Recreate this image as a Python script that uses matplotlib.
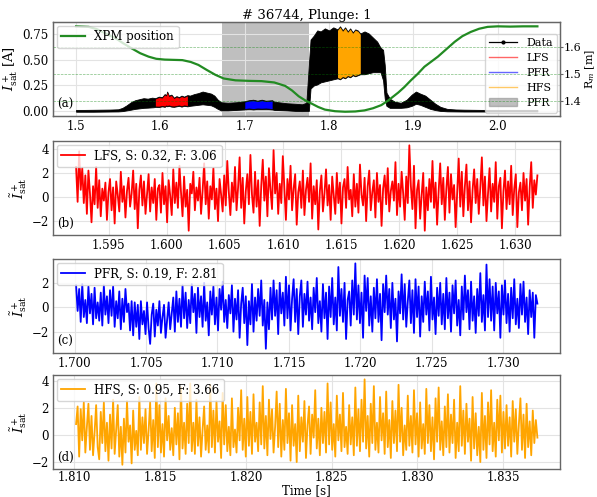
import numpy as np
import matplotlib
matplotlib.use("Agg")
import matplotlib.pyplot as plt
from matplotlib.patches import Patch

plt.rcParams["font.family"] = "DejaVu Serif"
plt.rcParams["mathtext.fontset"] = "dejavuserif"

shot = 36744
plunge = 1

# raw ion saturation current: the trace is so dense it reads as a band,
# so keep its lower / upper edge
env_t = [1.500, 1.510, 1.520, 1.530, 1.540, 1.550, 1.555, 1.560, 1.565, 1.570, 1.575, 1.580,
         1.585, 1.590, 1.592, 1.594, 1.598, 1.602, 1.605, 1.607, 1.608, 1.610, 1.613, 1.616,
         1.619, 1.622, 1.625, 1.628, 1.632, 1.635, 1.640, 1.645, 1.650, 1.655, 1.660, 1.664,
         1.668, 1.672, 1.680, 1.690, 1.700, 1.705, 1.710, 1.715, 1.720, 1.725, 1.7325, 1.735,
         1.740, 1.750, 1.760, 1.768, 1.773, 1.776, 1.778, 1.782, 1.786, 1.790, 1.795, 1.800,
         1.805, 1.810, 1.813, 1.816, 1.819, 1.822, 1.825, 1.828, 1.831, 1.834, 1.837, 1.842,
         1.847, 1.852, 1.857, 1.861, 1.864, 1.866, 1.868, 1.872, 1.878, 1.885, 1.892, 1.898,
         1.903, 1.908, 1.914, 1.920, 1.926, 1.932, 1.940, 1.950, 1.960, 1.980, 2.000, 2.020,
         2.047]
env_lo = [-0.008, -0.008, -0.008, -0.007, -0.006, -0.005, -0.002, 0.005, 0.012, 0.02, 0.025, 0.03,
          0.032, 0.035, 0.036, 0.04, 0.038, 0.045, 0.04, 0.05, 0.045, 0.05, 0.042, 0.04,
          0.045, 0.05, 0.042, 0.05, 0.045, 0.05, 0.055, 0.06, 0.065, 0.06, 0.055, 0.04,
          0.02, 0.005, 0.005, 0.01, 0.015, 0.02, 0.015, 0.02, 0.018, 0.02, 0.015, 0.01,
          0.008, 0.005, 0.0, -0.002, 0.0, 0.0, 0.22, 0.25, 0.26, 0.28, 0.29, 0.30,
          0.31, 0.32, 0.31, 0.33, 0.32, 0.34, 0.33, 0.35, 0.34, 0.35, 0.36, 0.36,
          0.37, 0.38, 0.38, 0.38, 0.30, 0.12, 0.05, 0.03, 0.03, 0.03, 0.035, 0.05,
          0.07, 0.06, 0.04, 0.02, 0.008, 0.0, -0.004, -0.005, -0.006, -0.006, -0.006, -0.005,
          -0.005]
env_hi = [0.010, 0.010, 0.011, 0.012, 0.013, 0.016, 0.030, 0.055, 0.085, 0.105, 0.115, 0.125,
          0.12, 0.13, 0.128, 0.125, 0.14, 0.135, 0.165, 0.155, 0.19, 0.15, 0.16, 0.13,
          0.145, 0.135, 0.15, 0.14, 0.155, 0.15, 0.165, 0.175, 0.19, 0.18, 0.17, 0.15,
          0.11, 0.085, 0.08, 0.085, 0.095, 0.105, 0.11, 0.1, 0.11, 0.1, 0.105, 0.09,
          0.085, 0.075, 0.07, 0.065, 0.08, 0.45, 0.70, 0.74, 0.79, 0.78, 0.81, 0.79,
          0.82, 0.80, 0.83, 0.79, 0.82, 0.78, 0.81, 0.77, 0.80, 0.79, 0.76, 0.78,
          0.76, 0.72, 0.68, 0.62, 0.60, 0.45, 0.18, 0.12, 0.09, 0.08, 0.11, 0.16,
          0.19, 0.17, 0.15, 0.11, 0.07, 0.04, 0.02, 0.014, 0.012, 0.01, 0.01, 0.01,
          0.01]

# probe position (XPM) in major radius
xpm_time = [1.500, 1.515, 1.525, 1.535, 1.547, 1.556, 1.566, 1.576, 1.586, 1.595, 1.605, 1.615,
            1.626, 1.636, 1.645, 1.655, 1.665, 1.675, 1.689, 1.705, 1.720, 1.735, 1.748, 1.756,
            1.764, 1.772, 1.779, 1.787, 1.795, 1.807, 1.819, 1.831, 1.842, 1.852, 1.862, 1.870,
            1.876, 1.882, 1.889, 1.897, 1.905, 1.913, 1.921, 1.929, 1.939, 1.949, 1.958, 1.968,
            1.978, 1.988, 2.000, 2.015, 2.030, 2.047]
xpm_r = [1.679, 1.677, 1.668, 1.652, 1.634, 1.615, 1.596, 1.578, 1.565, 1.557, 1.554, 1.553,
         1.552, 1.545, 1.534, 1.515, 1.497, 1.483, 1.476, 1.474, 1.473, 1.468, 1.455, 1.438,
         1.416, 1.400, 1.389, 1.376, 1.366, 1.360, 1.358, 1.359, 1.363, 1.371, 1.383, 1.400,
         1.415, 1.430, 1.450, 1.476, 1.500, 1.527, 1.546, 1.565, 1.593, 1.621, 1.642, 1.658,
         1.670, 1.677, 1.679, 1.678, 1.679, 1.679]

pfr_span = (1.673, 1.776)

# normalised fluctuations per region
lfs_window = (1.5922, 1.6319)
lfs_stats = (0.32, 3.06)
lfs_vals = [
    2.5, -0.4, 3.8, 0.6, 2.4, -0.5, 1.8, -1.4, 2.2, 0.3, -2.1, 0.9, -0.6, 2.5, -0.9, 1.4, -1.6, 0.7, -0.3, 1.2,
    -1.9, 0.4, 1.5, -1.1, 0.8, -2.2, 1.3, 0.2, -1.2, 2.1, -0.4, 0.9, -1.7, 0.5, 1.6, -0.8, 0.3, 2.2, -1.0, 1.1,
    -2.6, 0.6, 1.8, -0.7, 1.3, -1.4, 0.2, 1.9, -1.2, 0.8, -0.5, 1.5, -1.9, 0.7, 1.0, -1.3, 2.0, -0.6, 0.9, -2.1,
    1.4, 0.1, -1.5, 2.3, -0.5, 1.2, -0.9, 2.6, 0.4, -1.6, 1.7, -0.8, 0.6, -2.8, 1.1, 0.3, 2.1, -1.1, 0.8, -0.3,
    1.6, -1.4, 0.5, 2.8, -0.6, 1.3, -1.8, 0.9, -0.2, 2.4, -1.0, 0.7, -2.0, 1.5, 0.2, -1.2, 1.8, -0.7, 3.0, 0.4,
    -1.5, 1.2, -0.4, 2.5, -1.1, 0.8, 3.3, -0.9, 1.6, -2.2, 0.5, 1.9, -0.6, 3.5, 0.2, -1.3, 2.1, -0.8, 1.4, -2.4,
    0.9, 3.1, -0.3, 1.7, -1.6, 2.4, 0.6, -1.0, 3.9, 0.3, 2.0, -1.4, 1.1, -0.5, 3.4, 0.8, -1.9, 1.5, -0.2, 2.6,
    -1.1, 0.7, 1.9, -2.3, 0.4, 1.3, -0.9, 2.2, -1.5, 0.6, 1.6, -0.4, 2.8, -1.8, 0.9, -0.6, 1.4, -2.7, 0.5, 1.8,
    -1.2, 0.3, 2.3, -0.7, 1.0, -1.9, 1.7, 0.1, -1.4, 2.0, -0.5, 1.2, -2.2, 0.8, 1.5, -0.9, 2.5, -0.2, 0.6, -1.6,
    1.9, -0.8, 1.1, -1.3, 2.7, 0.2, -0.7, 1.6, -2.0, 0.9, 2.2, -1.1, 0.4, 1.4, -1.7, 2.0, -0.4, 1.0, -2.4, 0.7,
    1.8, -0.6, 2.4, -1.2, 0.5, 1.3, -0.3, 2.9, -1.5, 1.1, -0.8, 2.1, 0.3, -1.9, 1.7, -0.5, 4.3, 0.9, -1.0, 2.6,
    -2.6, 0.6, 1.4, -1.8, 0.2, 2.0, -2.8, 0.8, -1.1, 1.5, -0.4, 3.0, -0.9, 1.2, -2.3, 0.5, 2.8, -0.6, 1.6, -1.9,
    0.7, 2.5, -1.3, 1.9, -0.2, 1.0, -2.5, 0.4, 3.2, -0.8, 2.1, -1.6, 0.9, 2.7, -1.1, 1.3, -2.1, 0.6, 2.3, -0.5,
    1.5, -1.4, 0.8, 3.3, -0.7, 1.7, -2.0, 0.3, 2.4, -1.2, 1.1, -0.4, 2.9, -1.8, 0.9, 1.6, -2.6, 0.5, 2.2, -1.0,
    1.3, -0.6, 2.6, -1.5, 0.7, 1.9, -2.5, 0.4, 1.2, -1.1, 2.0, -0.3, 1.5, -2.3, 0.8, 2.9, -0.9, 1.4, 0.2, 1.8,
]

pfr_window = (1.7001, 1.7324)
pfr_stats = (0.19, 2.81)
pfr_vals = [
    1.8, -0.3, 1.5, -1.2, 1.9, -0.8, 0.6, -1.3, 1.7, -0.5, 1.1, -1.4, 1.6, -0.9, 0.4, -1.1, 1.2, -1.5, 1.8, -0.6,
    0.9, -1.3, 1.4, -0.7, 1.7, -1.6, 0.5, -0.9, 1.3, -1.8, 0.7, -1.2, 1.5, -0.4, 0.3, -1.9, 0.5, -2.3, 0.4, -1.6,
    0.2, -2.6, 0.5, -1.4, -0.3, -2.2, 0.4, -1.7, -3.0, -0.6, 0.3, -2.4, -0.2, -1.5, 0.5, -2.1, -0.8, 0.2, -2.5, -1.0,
    0.4, -1.8, -0.5, 0.8, -2.0, 1.3, -1.2, 0.7, -1.6, 1.8, -0.9, 1.2, -1.7, 0.6, -1.3, 1.9, -0.4, 1.1, -2.1, 1.6,
    -0.8, 0.9, -1.6, 2.0, -1.1, 0.4, -2.3, 1.3, -0.6, 1.7, -1.4, 0.8, -1.9, 1.5, -0.2, 2.1, -1.2, 0.6, -1.7, 1.0,
    -0.5, 1.8, -2.0, 0.7, -1.0, 1.4, -2.5, 0.3, 1.6, -1.3, 0.9, -3.1, 0.5, -1.4, 1.9, -2.0, 0.8, -1.1, 1.5, -0.7,
    2.2, -1.5, 0.6, -3.4, 0.4, -1.8, 1.6, -1.0, 2.2, -0.7, 1.4, -2.2, 2.0, -0.5, 1.2, -1.5, 2.5, -0.9, 1.8, -1.9,
    0.7, 2.3, -1.2, 1.5, -2.2, 0.9, 2.2, -1.6, 1.1, -0.6, 2.1, -1.1, 0.8, -1.8, 1.6, -0.4, 2.4, -1.3, 0.5, -2.0,
    1.9, -0.9, 1.2, -2.6, 1.7, -0.8, 2.4, -1.4, 0.8, -1.9, 3.3, -0.7, 1.5, -1.2, 2.0, -2.6, 0.6, 1.3, -1.5, 2.2,
    -0.6, 3.6, -1.0, 1.8, -1.3, 1.2, -2.5, 2.6, -0.3, 2.4, -1.5, 0.9, -2.0, 1.6, -0.9, 2.3, -1.2, 1.1, -2.7, 1.9,
    -0.4, 2.6, -0.6, 1.5, -1.7, 2.0, -1.0, 0.7, -2.8, 1.3, -0.5, 2.7, -1.0, 1.9, -1.6, 0.5, 2.2, -1.3, 1.4, -2.1,
    2.3, -0.8, 1.7, -2.4, 0.9, -1.2, 2.1, -0.6, 1.3, -1.9, 2.5, -1.0, 0.8, -2.2, 1.6, -0.7, 2.0, -1.4, 1.1, -1.8,
    2.4, -0.9, 1.2, -2.0, 1.8, -0.5, 2.2, -1.5, 0.6, -2.3, 1.7, -1.0, 2.6, -0.4, 1.4, -1.8, 2.1, -1.1, 0.9, -2.1,
    1.5, -0.7, 2.8, -1.2, 1.0, -1.9, 3.5, -0.8, 2.3, -1.1, 1.7, -1.9, 2.0, -0.5, 1.3, -2.5, 1.8, -0.6, 2.2, -1.3,
    1.1, -2.0, 1.6, -0.9, 2.3, -1.4, 0.7, -1.7, 1.9, -0.6, 2.1, -1.2, 0.8, -2.2, 1.4, -0.8, 1.2, -2.5, 1.0, 0.3,
]

hfs_window = (1.8101, 1.8370)
hfs_stats = (0.95, 3.66)
hfs_vals = [
    0.8, 2.1, -1.6, 1.9, -0.4, 2.4, -1.3, 0.6, 2.3, -1.1, 1.4, -1.5, 0.2, 2.2, -0.9, -1.8, 1.7, -0.6, 2.4, -1.2,
    0.9, -1.9, 1.5, -1.0, 2.6, -1.4, 0.4, 2.2, -1.6, 0.6, -2.2, 1.2, -1.3, 2.5, -0.5, 0.7, -2.1, 1.8, -1.1, 0.3,
    -1.5, 2.8, -1.1, 1.3, -0.6, 1.9, -1.4, 0.3, 2.4, -1.2, 1.1, -1.7, 3.8, -0.9, 2.2, -1.3, 0.8, -1.6, 2.7, -0.4,
    1.4, -1.1, 0.5, -1.5, 2.0, -0.7, 1.6, -1.8, 3.5, -1.0, 0.9, -1.4, 2.3, -0.6, 3.8, -1.2, 0.9, -1.4, 2.6, -0.8,
    1.3, -1.6, 0.4, 2.1, -1.1, 0.7, -1.3, 3.7, -0.9, 1.8, -1.3, 2.5, -0.5, 1.0, -1.7, 3.1, -0.7, 2.2, -1.2, 0.6,
    -1.5, 2.7, -0.9, 0.4, -1.3, 2.0, -0.4, 3.3, -1.1, 1.2, -1.6, 2.8, -0.8, 1.7, -1.4, 3.0, -0.5, 0.9, -1.2, 2.4,
    -0.7, 3.6, -1.0, 1.4, -1.5, 2.6, -0.3, 1.9, -1.3, 0.6, 3.2, -0.9, 2.3, -1.6, 1.1, -1.1, 3.4, -0.6, 1.6, -1.9,
    2.2, -0.8, 0.8, -2.0, 2.9, -1.2, 1.3, -0.5, 2.5, -1.7, 0.7, 2.1, -1.4, 1.5, -0.2, 3.3, -1.0, 1.2, -1.5, 2.0,
    -0.6, 1.7, -1.3, 3.8, -0.7, 2.4, -1.1, 0.8, -1.6, 2.9, -0.4, 1.5, -1.2, 3.1, -0.9, 0.6, -1.4, 2.2, -0.7, 1.3,
    -1.5, 3.5, -0.8, 1.9, -1.2, 2.6, -0.5, 4.1, -1.0, 1.4, -1.6, 2.3, -0.6, 3.6, -1.1, 0.9, -1.3, 2.8, -0.4, 1.6,
    -1.4, 3.2, -0.9, 1.1, -1.7, 2.5, -0.6, 1.8, -1.2, 3.7, -0.5, 2.0, -1.5, 0.7, -1.1, 2.9, -0.8, 1.4, -1.3, 3.3,
    -0.7, 1.6, -1.6, 2.4, -1.0, 0.8, -1.4, 3.4, -0.6, 2.2, -1.2, 1.3, -1.8, 2.7, -0.5, 3.5, -1.1, 1.0, -1.5, 2.1,
    -0.9, 3.0, -1.3, 1.5, -0.6, 2.6, -1.7, 0.9, -1.2, 3.6, -0.8, 1.8, -1.4, 2.3, -0.5, 1.2, -1.9, 2.8, -1.0, 1.6,
    -1.5, 0.6, -2.0, 3.1, -1.1, 1.4, -1.7, 2.4, -0.7, 3.3, -1.2, 0.9, -1.6, 2.6, -0.4, 2.9, -1.3, 1.7, -1.0, 2.2,
    -0.8, 1.3, -1.6, 2.5, -0.5, 1.9, -1.4, 0.8, 2.7, -1.1, 1.5, -1.7, 2.3, -0.9, 1.0, -1.5, 1.8, -0.6, 1.1, -0.2,
]

env_t = np.array(env_t)
env_lo = np.array(env_lo)
env_hi = np.array(env_hi)

fig = plt.figure(figsize=(5.97, 4.97), dpi=100)
left, width, height = 0.0888, 0.850, 0.189
bottoms = [0.7666, 0.5272, 0.2897, 0.0563]
axs = [fig.add_axes([left, b, width, height]) for b in bottoms]

for ax in axs:
    ax.grid(True, color="#e3e3e3", lw=0.8)
    ax.set_axisbelow(True)
    ax.tick_params(labelsize=8.5, length=0, pad=3)
    for s in ax.spines.values():
        s.set_color("#666666")
        s.set_linewidth(1.0)

# (a) overview
ax = axs[0]
ax.axvspan(*pfr_span, color="gray", alpha=0.5, lw=0, zorder=0.5)
ax.fill_between(env_t, env_lo, env_hi, color="black", lw=0.6, edgecolor="black", zorder=2)
for (t0, t1), c in [(lfs_window, "red"), (pfr_window, "blue"), (hfs_window, "orange")]:
    m = (env_t >= t0 - 1e-4) & (env_t <= t1 + 1e-4)
    ax.fill_between(env_t[m], env_lo[m] + 0.008, env_hi[m] - 0.008, color=c, lw=0, zorder=3)
ax.set_ylabel(r"$I^+_\mathrm{sat}$ [A]", fontsize=9.5, labelpad=2)
ax.set_title(f"# {shot}, Plunge: {plunge}", fontsize=9.5, pad=2)
ax.set_yticks([0.0, 0.25, 0.5, 0.75])
ax.set_xticks([1.5, 1.6, 1.7, 1.8, 1.9, 2.0])
ax.text(0.008, 0.05, "(a)", transform=ax.transAxes, fontsize=8.5, va="bottom")

handles = [
    plt.Line2D([], [], color="black", lw=0.9, marker=".", ms=4),
    plt.Line2D([], [], color="red", lw=1, alpha=0.6),
    plt.Line2D([], [], color="blue", lw=1, alpha=0.6),
    plt.Line2D([], [], color="orange", lw=1, alpha=0.6),
    Patch(color="gray", alpha=0.5),
]
ax.legend(handles, ["Data", "LFS", "PFR", "HFS", "PFR"], loc="lower right", fontsize=8,
          borderaxespad=0.3, handlelength=2.5, labelspacing=0.45)

ax2 = ax.twinx()
ax2.plot(xpm_time, xpm_r, color="forestgreen", lw=1.6, label="XPM position")
ax2.set_ylabel(r"R$_m$ [m]", fontsize=8)
ax2.yaxis.set_label_coords(1.046, 0.5)
ax2.set_yticks([1.4, 1.5, 1.6])
ax2.tick_params(labelsize=8, length=2, pad=0.5, color="#666666")
ax2.grid(True, axis="y", color="green", ls="--", lw=0.5, alpha=0.5)
ax2.grid(False, axis="x")
for s in ax2.spines.values():
    s.set_color("#666666")
ax2.legend(loc="upper left", fontsize=8.5, borderaxespad=0.3)

# (b)-(d) fluctuations
panels = [
    (axs[1], lfs_window, lfs_vals, "red", "LFS", lfs_stats, "(b)",
     [-2, 0, 2, 4], [1.595, 1.600, 1.605, 1.610, 1.615, 1.620, 1.625, 1.630]),
    (axs[2], pfr_window, pfr_vals, "blue", "PFR", pfr_stats, "(c)",
     [-2, 0, 2], [1.700, 1.705, 1.710, 1.715, 1.720, 1.725, 1.730]),
    (axs[3], hfs_window, hfs_vals, "orange", "HFS", hfs_stats, "(d)",
     [-2, 0, 2, 4], [1.810, 1.815, 1.820, 1.825, 1.830, 1.835]),
]
for ax, (t0, t1), vals, c, name, (skew, flat), tag, yt, xt in panels:
    t = np.linspace(t0, t1, len(vals))
    ax.plot(t, vals, color=c, lw=1.3, label=f"{name}, S: {skew:.2f}, F: {flat:.2f}")
    ax.set_ylabel(r"$\tilde{I}^+_\mathrm{sat}$", fontsize=9.5, labelpad=2)
    ax.set_yticks(yt)
    ax.set_xticks(xt)
    ax.set_xticklabels([f"{x:.3f}" for x in xt])
    ax.legend(loc="upper left", fontsize=8.5, borderaxespad=0.3)
    ax.text(0.008, 0.05, tag, transform=ax.transAxes, fontsize=8.5, va="bottom")

axs[3].tick_params(axis="x", pad=1.5)
axs[3].set_xlabel("Time [s]", fontsize=8.5, labelpad=0)

fig.savefig("out.png", dpi=100)
